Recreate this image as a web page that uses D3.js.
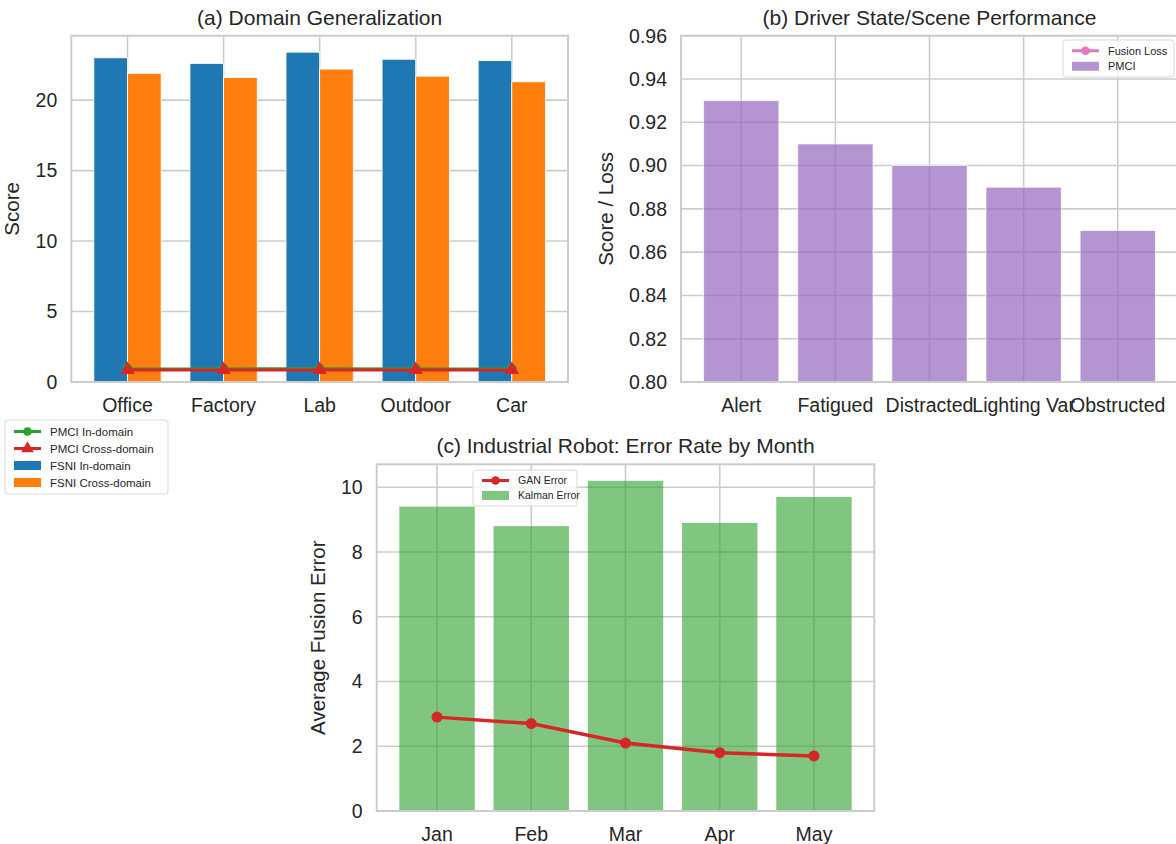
<!DOCTYPE html>
<html>
<head>
<meta charset="utf-8">
<script src="https://cdn.jsdelivr.net/npm/d3@7"></script>
<style>
  body { margin: 0; background: #fff; }
  text { font-family: "Liberation Sans", Arial, sans-serif; fill: #262626; }
</style>
</head>
<body>
<div id="chart"></div>
<script>
// ---- data ----
var domains = ["Office", "Factory", "Lab", "Outdoor", "Car"];
var fsniIn = [23.0, 22.6, 23.4, 22.9, 22.8];
var fsniCross = [21.9, 21.6, 22.2, 21.7, 21.3];
var pmciIn = [0.93, 0.93, 0.94, 0.93, 0.93];
var pmciCross = [0.86, 0.86, 0.86, 0.86, 0.86];
var ticksA = [0, 5, 10, 15, 20];

var states = ["Alert", "Fatigued", "Distracted", "Lighting Var", "Obstructed"];
var pmciScore = [0.93, 0.91, 0.90, 0.89, 0.87];
var ticksB = [0.80, 0.82, 0.84, 0.86, 0.88, 0.90, 0.92, 0.94, 0.96];

var months = ["Jan", "Feb", "Mar", "Apr", "May"];
var kalmanError = [9.4, 8.8, 10.2, 8.9, 9.7];
var ganError = [2.9, 2.7, 2.1, 1.8, 1.7];
var ticksC = [0, 2, 4, 6, 8, 10];

var svgWidth = 1176;
var svgHeight = 844;
var gridColor = "#cccccc";

var svg = d3.select("#chart")
  .append("svg")
  .attr("width", svgWidth)
  .attr("height", svgHeight);

// builds one panel: grid, tick labels, title, y label. returns scales + layers
function makePanel(box, xDomain, yDomain, yTicks, yFmt, cats, title, yLabel) {
  var x = d3.scaleLinear().domain(xDomain).range([box.left, box.right]);
  var y = d3.scaleLinear().domain(yDomain).range([box.bottom, box.top]);
  var g = svg.append("g");

  var grid = g.append("g");
  grid.selectAll(".hg").data(yTicks).enter().append("line")
    .attr("x1", box.left).attr("x2", box.right)
    .attr("y1", d => y(d)).attr("y2", d => y(d))
    .attr("stroke", gridColor).attr("stroke-width", 1.6);
  grid.selectAll(".vg").data(cats).enter().append("line")
    .attr("x1", (d, i) => x(i)).attr("x2", (d, i) => x(i))
    .attr("y1", box.top).attr("y2", box.bottom)
    .attr("stroke", gridColor).attr("stroke-width", 1.6);

  var marks = g.append("g");
  var top = g.append("g");

  // spines
  top.append("rect")
    .attr("x", box.left).attr("y", box.top)
    .attr("width", box.right - box.left).attr("height", box.bottom - box.top)
    .attr("fill", "none").attr("stroke", gridColor).attr("stroke-width", 2);

  // tick labels
  top.selectAll(".yt").data(yTicks).enter().append("text")
    .attr("x", box.left - 14).attr("y", d => y(d))
    .attr("dy", "0.35em").attr("text-anchor", "end")
    .style("font-size", "19.5px")
    .text(d => yFmt(d));
  top.selectAll(".xt").data(cats).enter().append("text")
    .attr("x", (d, i) => x(i)).attr("y", box.bottom + 30)
    .attr("text-anchor", "middle")
    .style("font-size", "19.5px")
    .text(d => d);

  top.append("text")
    .attr("x", (box.left + Math.min(box.right, svgWidth + 2)) / 2)
    .attr("y", box.top - 11)
    .attr("text-anchor", "middle")
    .style("font-size", "21px")
    .text(title);

  top.append("text")
    .attr("transform", `translate(${box.yLabelX}, ${(box.top + box.bottom) / 2}) rotate(-90)`)
    .attr("text-anchor", "middle")
    .style("font-size", "20.5px")
    .text(yLabel);

  return { x: x, y: y, marks: marks, top: top, box: box };
}

function legend(parent, x0, y0, w, rowH, items, fontSize) {
  var lg = parent.append("g").attr("transform", `translate(${x0}, ${y0})`);
  lg.append("rect")
    .attr("width", w).attr("height", rowH * items.length + 6)
    .attr("rx", 3)
    .attr("fill", "#fff").attr("fill-opacity", 0.8)
    .attr("stroke", "#d9d9d9").attr("stroke-width", 1);
  items.forEach(function(it, i) {
    var cy = 3 + rowH * (i + 0.5);
    if (it.type === "patch") {
      lg.append("rect").attr("x", 9).attr("y", cy - 4.5)
        .attr("width", 27).attr("height", 9)
        .attr("fill", it.color).attr("fill-opacity", it.opacity || 1);
    } else {
      lg.append("line").attr("x1", 9).attr("x2", 36)
        .attr("y1", cy).attr("y2", cy)
        .attr("stroke", it.color).attr("stroke-width", 3);
      lg.append("path")
        .attr("transform", `translate(22.5, ${cy})`)
        .attr("d", d3.symbol().type(it.marker === "tri" ? d3.symbolTriangle : d3.symbolCircle)
          .size(it.marker === "tri" ? 70 : 60)())
        .attr("fill", it.color);
    }
    lg.append("text").attr("x", 45).attr("y", cy).attr("dy", "0.35em")
      .style("font-size", fontSize + "px")
      .text(it.label);
  });
}

// ---- (a) Domain Generalization ----
var pa = makePanel({ left: 71.3, right: 568, top: 35.7, bottom: 382, yLabelX: 19 },
  [-0.585, 4.585], [0, 24.57], ticksA, d3.format("d"), domains,
  "(a) Domain Generalization", "Score");

pa.marks.selectAll(".bIn").data(fsniIn).enter().append("rect")
  .attr("x", (d, i) => pa.x(i - 0.35))
  .attr("width", pa.x(0.35) - pa.x(0))
  .attr("y", d => pa.y(d))
  .attr("height", d => pa.y(0) - pa.y(d))
  .attr("fill", "#1f77b4").attr("stroke", "#fff").attr("stroke-width", 0.8);
pa.marks.selectAll(".bCr").data(fsniCross).enter().append("rect")
  .attr("x", (d, i) => pa.x(i))
  .attr("width", pa.x(0.35) - pa.x(0))
  .attr("y", d => pa.y(d))
  .attr("height", d => pa.y(0) - pa.y(d))
  .attr("fill", "#ff7f0e").attr("stroke", "#fff").attr("stroke-width", 0.8);

var lineA = d3.line().x((d, i) => pa.x(i)).y(d => pa.y(d));
pa.top.append("path").datum(pmciIn).attr("d", lineA)
  .attr("fill", "none").attr("stroke", "#2ca02c").attr("stroke-width", 3);
pa.top.selectAll(".mIn").data(pmciIn).enter().append("circle")
  .attr("cx", (d, i) => pa.x(i)).attr("cy", d => pa.y(d)).attr("r", 5)
  .attr("fill", "#2ca02c");
pa.top.append("path").datum(pmciCross).attr("d", lineA)
  .attr("fill", "none").attr("stroke", "#d62728").attr("stroke-width", 3);
pa.top.selectAll(".mCr").data(pmciCross).enter().append("path")
  .attr("transform", (d, i) => `translate(${pa.x(i)}, ${pa.y(d)})`)
  .attr("d", d3.symbol().type(d3.symbolTriangle).size(90)())
  .attr("fill", "#d62728");

legend(svg, 5, 420, 163, 17, [
  { type: "line", marker: "circle", color: "#2ca02c", label: "PMCI In-domain" },
  { type: "line", marker: "tri", color: "#d62728", label: "PMCI Cross-domain" },
  { type: "patch", color: "#1f77b4", label: "FSNI In-domain" },
  { type: "patch", color: "#ff7f0e", label: "FSNI Cross-domain" }
], 11.5);

// ---- (b) Driver State/Scene Performance ----
var pb = makePanel({ left: 681, right: 1178, top: 35.7, bottom: 382, yLabelX: 613 },
  [-0.64, 4.64], [0.80, 0.96], ticksB, d3.format(".2f"), states,
  "(b) Driver State/Scene Performance", "Score / Loss");

pb.marks.selectAll(".bP").data(pmciScore).enter().append("rect")
  .attr("x", (d, i) => pb.x(i - 0.4))
  .attr("width", pb.x(0.8) - pb.x(0))
  .attr("y", d => pb.y(d))
  .attr("height", d => pb.y(0.80) - pb.y(d))
  .attr("fill", "#9467bd").attr("fill-opacity", 0.7)
  .attr("stroke", "#fff").attr("stroke-opacity", 0.7).attr("stroke-width", 1);

legend(svg, 1063, 40, 111, 15.5, [
  { type: "line", marker: "circle", color: "#e377c2", label: "Fusion Loss" },
  { type: "patch", color: "#9467bd", opacity: 0.7, label: "PMCI" }
], 11);

// ---- (c) Industrial Robot ----
var pc = makePanel({ left: 376.7, right: 874.3, top: 464.3, bottom: 811, yLabelX: 325 },
  [-0.64, 4.64], [0, 10.71], ticksC, d3.format("d"), months,
  "(c) Industrial Robot: Error Rate by Month", "Average Fusion Error");

pc.marks.selectAll(".bK").data(kalmanError).enter().append("rect")
  .attr("x", (d, i) => pc.x(i - 0.4))
  .attr("width", pc.x(0.8) - pc.x(0))
  .attr("y", d => pc.y(d))
  .attr("height", d => pc.y(0) - pc.y(d))
  .attr("fill", "#2ca02c").attr("fill-opacity", 0.6);

var lineC = d3.line().x((d, i) => pc.x(i)).y(d => pc.y(d));
pc.top.append("path").datum(ganError).attr("d", lineC)
  .attr("fill", "none").attr("stroke", "#d62728").attr("stroke-width", 3.5);
pc.top.selectAll(".mG").data(ganError).enter().append("circle")
  .attr("cx", (d, i) => pc.x(i)).attr("cy", d => pc.y(d)).attr("r", 5.5)
  .attr("fill", "#d62728");

legend(svg, 473, 470, 104, 15, [
  { type: "line", marker: "circle", color: "#d62728", label: "GAN Error" },
  { type: "patch", color: "#2ca02c", opacity: 0.6, label: "Kalman Error" }
], 10.5);
</script>
</body>
</html>
